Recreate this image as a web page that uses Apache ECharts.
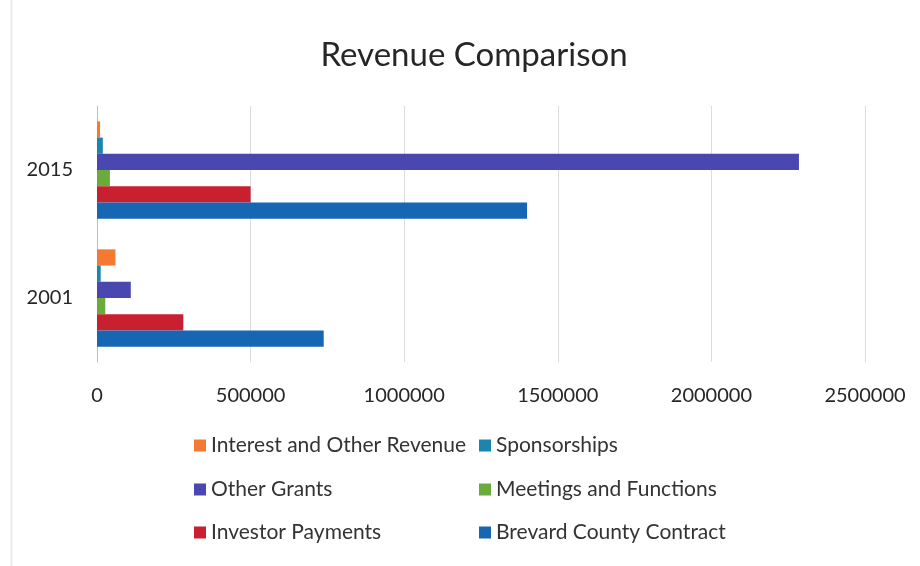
<!DOCTYPE html>
<html>
<head>
<meta charset="utf-8">
<script src="https://cdn.jsdelivr.net/npm/echarts@6/dist/echarts.min.js"></script>
<style>
  html, body { margin: 0; padding: 0; background: #ffffff; }
  #chart { width: 920px; height: 566px; }
</style>
</head>
<body>
<div id="chart"></div>
<script>
// Revenue by source, 2001 vs 2015
const years = ['2001', '2015'];
const seriesNames = [
  'Interest and Other Revenue',
  'Sponsorships',
  'Other Grants',
  'Meetings and Functions',
  'Investor Payments',
  'Brevard County Contract'
];
const interestOther = [60000, 10000];
const sponsorships = [12000, 19000];
const otherGrants = [110000, 2285000];
const meetingsFunctions = [27000, 42000];
const investorPayments = [281000, 500000];
const brevardCounty = [738000, 1400000];
const xTicks = [0, 500000, 1000000, 1500000, 2000000, 2500000];

const seriesValues = [interestOther, sponsorships, otherGrants, meetingsFunctions, investorPayments, brevardCounty];
const colors = ['#f37a30', '#1a86b0', '#4b47b0', '#6aab3c', '#c9202f', '#1666b3'];

const FONT = 'Lato';

// legend laid out as two columns of three rows
const legendSlots = [
  { name: 'Interest and Other Revenue', left: 194, top: 435 },
  { name: 'Sponsorships', left: 479, top: 435 },
  { name: 'Other Grants', left: 194, top: 479 },
  { name: 'Meetings and Functions', left: 479, top: 479 },
  { name: 'Investor Payments', left: 194, top: 522 },
  { name: 'Brevard County Contract', left: 479, top: 522 }
];

const chart = echarts.init(document.getElementById('chart'));

chart.setOption({
  animation: false,
  backgroundColor: '#ffffff',
  color: colors,
  title: {
    text: 'Revenue Comparison',
    left: 469,
    top: 34,
    textAlign: 'center',
    textStyle: { fontFamily: FONT, fontSize: 33, fontWeight: 'normal', color: '#262626' }
  },
  legend: legendSlots.map(s => ({
    data: [s.name],
    left: s.left,
    top: s.top,
    padding: 0,
    itemWidth: 12,
    itemHeight: 12,
    icon: 'rect',
    selectedMode: false,
    textStyle: { fontFamily: FONT, fontSize: 21, color: '#333333' }
  })),
  grid: { left: 97, right: 55, top: 106, bottom: 204, containLabel: false },
  xAxis: {
    type: 'value',
    min: xTicks[0],
    max: xTicks[xTicks.length - 1],
    interval: xTicks[1] - xTicks[0],
    axisLine: { show: false },
    axisTick: { show: false },
    splitLine: { lineStyle: { color: '#dcdcdc', width: 1 } },
    axisLabel: {
      margin: 24,
      fontFamily: FONT,
      fontSize: 20,
      color: '#262626',
      formatter: v => String(v)
    }
  },
  yAxis: {
    type: 'category',
    data: years,
    axisLine: { show: true, lineStyle: { color: '#bfbfbf', width: 1 } },
    axisTick: { show: false },
    axisLabel: { margin: 24, fontFamily: FONT, fontSize: 20, color: '#262626' }
  },
  series: seriesNames.map((name, i) => ({
    name: name,
    type: 'bar',
    data: seriesValues[i],
    barGap: '0%',
    barCategoryGap: '24%',
    itemStyle: { color: colors[i] }
  })),
  graphic: [
    {
      type: 'line',
      shape: { x1: 11.5, y1: 0, x2: 11.5, y2: 566 },
      style: { stroke: '#ececec', lineWidth: 2 },
      silent: true
    }
  ]
});
</script>
</body>
</html>
